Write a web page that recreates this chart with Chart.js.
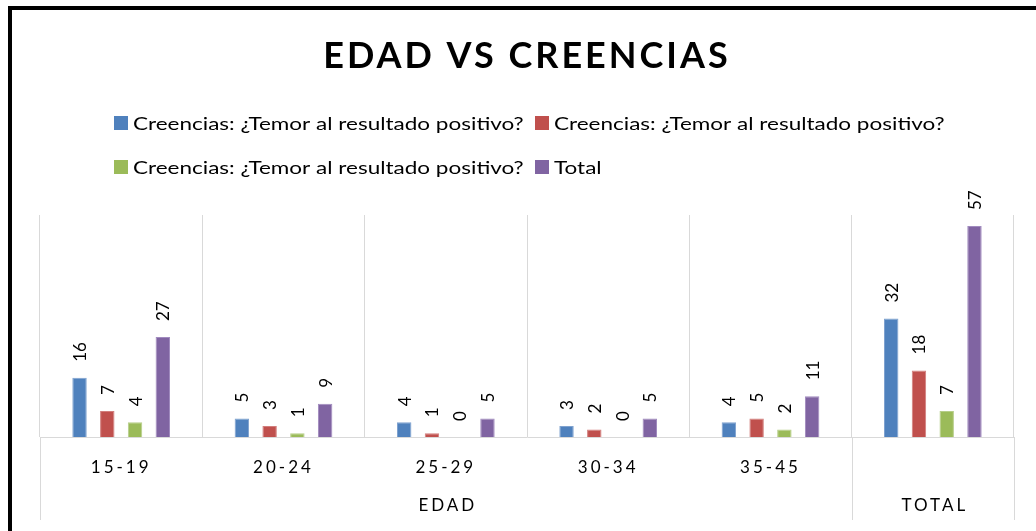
<!DOCTYPE html>
<html lang="es">
<head>
<meta charset="UTF-8">
<title>Edad vs Creencias</title>
<style>
    body { margin: 0; padding: 0; background: #fff; overflow: hidden; }
    #wrap { position: relative; width: 1036px; height: 531px; }
</style>
</head>
<body>
<div id="wrap"><canvas id="myChart" width="1036" height="531"></canvas></div>

<script src="https://cdn.jsdelivr.net/npm/chart.js"></script>
<script>
    // datos
    var categorias = ['15-19', '20-24', '25-29', '30-34', '35-45', ''];
    var grupos = ['EDAD', 'TOTAL'];
    var grupoInicio = [0, 5];
    var grupoFin = [4, 5];
    var creencias1 = [16, 5, 4, 3, 4, 32];
    var creencias2 = [7, 3, 1, 2, 5, 18];
    var creencias3 = [4, 1, 0, 0, 2, 7];
    var total = [27, 9, 5, 5, 11, 57];
    var nombres = [
        'Creencias: ¿Temor al resultado positivo?',
        'Creencias: ¿Temor al resultado positivo?',
        'Creencias: ¿Temor al resultado positivo?',
        'Total'
    ];
    var colores = ['#4F81BD', '#C0504D', '#9BBB59', '#8064A2'];
    var bordes = ['#7FA2CF', '#D27E7C', '#B6CE89', '#A18BBF'];
    var titulo = 'EDAD VS CREENCIAS';

    var FUENTE = 'Lato, "Open Sans", sans-serif';

    // marco negro y fondo
    var marco = {
        id: 'marco',
        beforeDraw: function(chart) {
            var ctx = chart.ctx;
            ctx.save();
            ctx.fillStyle = '#fff';
            ctx.fillRect(0, 0, chart.width, chart.height);
            ctx.lineWidth = 4;
            ctx.strokeStyle = '#000';
            ctx.strokeRect(10, 8, chart.width + 20, chart.height + 20);
            ctx.restore();
            ctx.letterSpacing = '3px'; // para las etiquetas del eje
        }
    };

    // titulo y leyenda en dos columnas como en Excel
    var cabecera = {
        id: 'cabecera',
        afterDraw: function(chart) {
            var ctx = chart.ctx;
            var area = chart.chartArea;
            ctx.save();
            ctx.letterSpacing = '3px';
            ctx.fillStyle = '#000';
            ctx.font = 'bold 36px ' + FUENTE;
            ctx.textAlign = 'center';
            ctx.textBaseline = 'middle';
            ctx.fillText(titulo, (area.left + area.right) / 2, 56);

            ctx.letterSpacing = '0px';
            ctx.font = '18px ' + FUENTE;
            ctx.textAlign = 'left';
            var colX = [114, 535];
            var filaY = [123, 167];
            var ancho = 1.25; // el texto del original es mas ancho
            chart.data.datasets.forEach(function(ds, i) {
                var x = colX[i % 2];
                var y = filaY[Math.floor(i / 2)];
                ctx.fillStyle = ds.backgroundColor;
                ctx.fillRect(x, y - 7, 14, 14);
                ctx.fillStyle = '#000';
                ctx.save();
                ctx.translate(x + 19, y + 1);
                ctx.scale(ancho, 1);
                ctx.fillText(ds.label, 0, 0);
                ctx.restore();
            });
            ctx.restore();
        }
    };

    // valores girados encima de cada barra
    var etiquetas = {
        id: 'etiquetas',
        afterDatasetsDraw: function(chart) {
            var ctx = chart.ctx;
            ctx.save();
            ctx.letterSpacing = '0px';
            ctx.font = '17px ' + FUENTE;
            ctx.fillStyle = '#000';
            ctx.textAlign = 'left';
            ctx.textBaseline = 'middle';
            chart.data.datasets.forEach(function(ds, i) {
                chart.getDatasetMeta(i).data.forEach(function(bar, j) {
                    ctx.save();
                    ctx.translate(bar.x + 1, bar.y - 16);
                    ctx.rotate(-Math.PI / 2);
                    ctx.fillText(String(ds.data[j]), 0, 0);
                    ctx.restore();
                });
            });
            ctx.restore();
        }
    };

    // separadores y nombres de grupo bajo el eje
    var gruposEje = {
        id: 'gruposEje',
        afterDraw: function(chart) {
            var ctx = chart.ctx;
            var x = chart.scales.x;
            var area = chart.chartArea;
            var medio = (x.getPixelForValue(1) - x.getPixelForValue(0)) / 2;
            ctx.save();
            ctx.strokeStyle = '#d9d9d9';
            ctx.lineWidth = 1;
            ctx.letterSpacing = '3px';
            ctx.font = '17px ' + FUENTE;
            ctx.fillStyle = '#000';
            ctx.textAlign = 'center';
            ctx.textBaseline = 'middle';
            grupos.forEach(function(g, i) {
                var a = x.getPixelForValue(grupoInicio[i]) - medio;
                var b = x.getPixelForValue(grupoFin[i]) + medio;
                [a, b].forEach(function(px) {
                    px = Math.round(px) + 0.5;
                    ctx.beginPath();
                    ctx.moveTo(px, area.bottom);
                    ctx.lineTo(px, 520);
                    ctx.stroke();
                });
                ctx.fillText(g, (a + b) / 2 + 2, 506);
            });
            ctx.restore();
        }
    };

    function crearGrafico() {
        var ctx = document.getElementById('myChart').getContext('2d');
        var series = [creencias1, creencias2, creencias3, total];

        new Chart(ctx, {
            type: 'bar',
            data: {
                labels: categorias,
                datasets: series.map(function(s, i) {
                    return {
                        label: nombres[i],
                        data: s,
                        backgroundColor: colores[i],
                        borderColor: bordes[i],
                        borderWidth: 1,
                        borderSkipped: 'bottom',
                        categoryPercentage: 0.684,
                        barPercentage: 0.52
                    };
                })
            },
            options: {
                responsive: false,
                animation: false,
                devicePixelRatio: 1,
                layout: { padding: { left: 40, right: 22, top: 215, bottom: 11 } },
                plugins: {
                    legend: { display: false },
                    title: { display: false },
                    tooltip: { enabled: false }
                },
                scales: {
                    x: {
                        grid: { offset: true, color: '#d9d9d9', lineWidth: 1, drawTicks: false },
                        border: { color: '#d9d9d9' },
                        ticks: {
                            font: { family: FUENTE, size: 17 },
                            color: '#000',
                            padding: 20,
                            maxRotation: 0
                        },
                        afterFit: function(s) { s.height = 83; }
                    },
                    y: { display: false, min: 0, max: 60 }
                }
            },
            plugins: [marco, etiquetas, gruposEje, cabecera]
        });
    }

    Promise.all([
        document.fonts.load('17px Lato'),
        document.fonts.load('bold 36px Lato')
    ]).then(crearGrafico, crearGrafico);
</script>
</body>
</html>
